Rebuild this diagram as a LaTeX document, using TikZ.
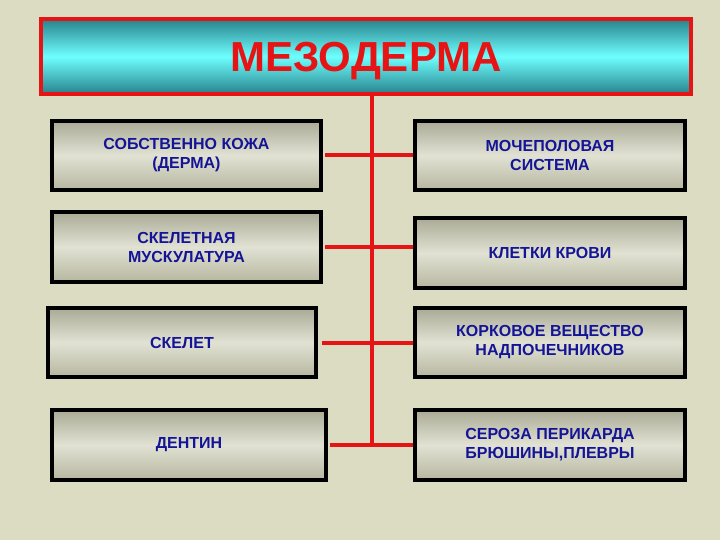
\documentclass[tikz,border=0pt]{standalone}
\usepackage{fontspec}
\setmainfont{Liberation Sans}
\definecolor{bgc}{RGB}{220,220,194}
\definecolor{btop}{RGB}{170,170,150}
\definecolor{bmid}{RGB}{226,226,212}
\definecolor{bbot}{RGB}{182,182,160}
\definecolor{ttop}{RGB}{40,130,140}
\definecolor{tmid}{RGB}{110,255,255}
\definecolor{tred}{RGB}{230,20,20}
\definecolor{tblue}{RGB}{20,20,150}
\begin{document}
\begin{tikzpicture}[x=1pt,y=-1pt,
  item/.style={draw=black,line width=4pt,top color=btop,bottom color=bbot,middle color=bmid,
    shading=axis,align=center,text=tblue,font=\bfseries\fontsize{16}{19}\selectfont,inner sep=0pt},
  link/.style={tred,line width=4pt}]
\fill[bgc] (0,0) rectangle (720,540);
\node[draw=tred,line width=3.5pt,top color=ttop,bottom color=ttop,middle color=tmid,
  minimum width=650pt,minimum height=75pt,font=\bfseries\fontsize{42}{48}\selectfont,text=tred,text depth=0pt] (top) at (366,56.5) {МЕЗОДЕРМА};
\node[item,minimum width=269pt,minimum height=69pt] (l1) at (186.5,155.5) {СОБСТВЕННО КОЖА\\(ДЕРМА)};
\node[item,minimum width=269pt,minimum height=70pt] (l2) at (186.5,247) {СКЕЛЕТНАЯ\\МУСКУЛАТУРА};
\node[item,minimum width=268pt,minimum height=69pt] (l3) at (182,342.5) {СКЕЛЕТ};
\node[item,minimum width=274pt,minimum height=70pt] (l4) at (189,445) {ДЕНТИН};
\node[item,minimum width=270pt,minimum height=69pt] (r1) at (550,155.5) {МОЧЕПОЛОВАЯ\\СИСТЕМА};
\node[item,minimum width=270pt,minimum height=70pt] (r2) at (550,253) {КЛЕТКИ КРОВИ};
\node[item,minimum width=270pt,minimum height=69pt] (r3) at (550,342.5) {КОРКОВОЕ ВЕЩЕСТВО\\НАДПОЧЕЧНИКОВ};
\node[item,minimum width=270pt,minimum height=70pt] (r4) at (550,445) {СЕРОЗА ПЕРИКАРДА\\БРЮШИНЫ,ПЛЕВРЫ};
\coordinate (b) at (372,445);
\draw[link] (top.south -| b) -- (b);
\draw[link] ([xshift=2pt]l1.east) -- (l1.east -| r1.west);
\draw[link] ([xshift=2pt]l2.east) -- (l2.east -| r2.west);
\draw[link] ([xshift=4pt]l3.east) -- (l3.east -| r3.west);
\draw[link] ([xshift=2pt]l4.east) -- (l4.east -| r4.west);
\end{tikzpicture}
\end{document}
